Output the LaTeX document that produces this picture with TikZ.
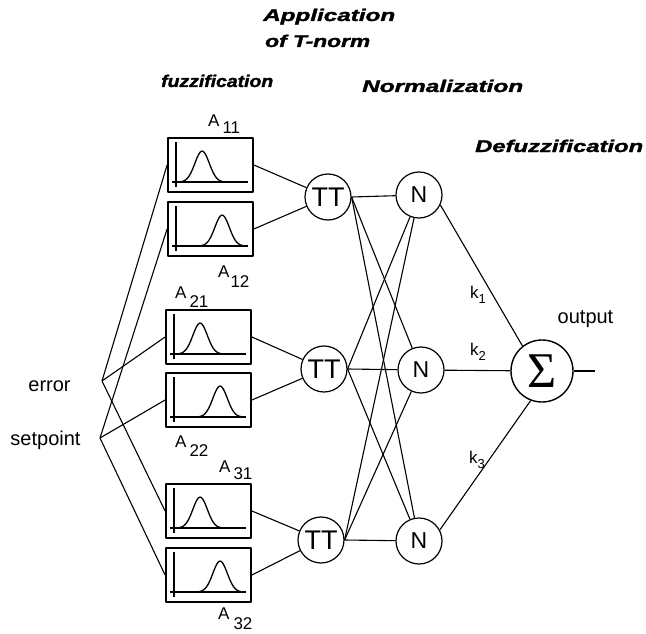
\documentclass[tikz,border=0pt]{standalone}
\usepackage{fontspec}
\setmainfont{Liberation Sans}
\newfontfamily\greekserif{Liberation Serif}
\newfontfamily\titlefont{Liberation Sans Bold Italic}[FakeBold=1.5]
\newcommand\Asub[3]{A\hspace{#3pt}\raisebox{-#2pt}{#1}}
\newcommand\ksub[1]{k\raisebox{-5pt}{\fontsize{13}{13}\selectfont #1}}
\newcommand\mfcurve[2]{%
  \begin{scope}[shift={(#1.north west)}]
    \draw[axisline] (9,5) -- (9,50);
    \draw[axisline] (5,45) -- (81,45);
    \draw[axisline] plot[domain=-22:22,samples=45] ({#2+\x},{45-31*exp(-((\x)*(\x))/104)});
  \end{scope}}
\tikzset{
  mfbox/.style={draw, line width=1.8pt, minimum width=85pt, minimum height=54pt, inner sep=0pt},
  neuron/.style={draw, circle, line width=1.2pt, minimum size=46pt, inner sep=0pt},
  sumnode/.style={draw, circle, line width=1.4pt, minimum size=62pt, inner sep=0pt},
  wire/.style={line width=1.1pt},
  axisline/.style={line width=1.3pt},
  title/.style={font=\fontsize{17}{17}\titlefont, inner sep=0pt, anchor=base west},
  lab/.style={font=\fontsize{17}{17}\selectfont, inner sep=0pt, anchor=base west},
  inlab/.style={font=\fontsize{20}{20}\selectfont, inner sep=0pt, anchor=base}
}
\begin{document}
\begin{tikzpicture}[x=1pt,y=-1pt,line join=round]
\useasboundingbox (0,0) rectangle (646,634);

% titles
\node[title] (tapp) at (263,21) {\resizebox{132pt}{\height}{Application}};
\node[title] (ttn) at (265,47) {\resizebox{105pt}{\height}{of T-norm}};
\node[title] (tfuz) at (161,87) {\resizebox{112pt}{\height}{fuzzification}};
\node[title] (tnor) at (362,92) {\resizebox{161pt}{\height}{Normalization}};
\node[title] (tdef) at (475,152) {\resizebox{168pt}{\height}{Defuzzification}};

% membership function boxes
\node[mfbox] (b1) at (210.5,165) {};
\node[mfbox] (b2) at (210.5,229) {};
\node[mfbox] (b3) at (208.5,337) {};
\node[mfbox] (b4) at (208.5,400) {};
\node[mfbox] (b5) at (208.5,511) {};
\node[mfbox] (b6) at (208.5,575) {};
\mfcurve{b1}{35}
\mfcurve{b2}{55}
\mfcurve{b3}{35}
\mfcurve{b4}{55}
\mfcurve{b5}{35}
\mfcurve{b6}{55}

% box labels
\node[lab] (a11) at (208,127) {\Asub{11}{6}{3}};
\node[lab] (a12) at (218,277) {\Asub{12}{10}{1}};
\node[lab] (a21) at (175,298) {\Asub{21}{9}{3}};
\node[lab] (a22) at (175,447) {\Asub{22}{9}{3}};
\node[lab] (a31) at (219,472) {\Asub{31}{7}{3}};
\node[lab] (a32) at (218,619) {\Asub{32}{10}{4}};

% T-norm nodes
\node[neuron, font=\fontsize{27}{27}\selectfont] (T1) at (328,197) {TT};
\node[neuron, font=\fontsize{27}{27}\selectfont] (T2) at (324,369) {TT};
\node[neuron, font=\fontsize{27}{27}\selectfont] (T3) at (321,540) {TT};

% normalization nodes
\node[neuron, font=\fontsize{23}{23}\selectfont] (N1) at (419,195) {N};
\node[neuron, font=\fontsize{23}{23}\selectfont] (N2) at (421,370) {N};
\node[neuron, font=\fontsize{23}{23}\selectfont] (N3) at (419,541) {N};

% sum node
\node[sumnode, font=\fontsize{50}{50}\selectfont\greekserif] (S) at (542,371) {Σ};
\coordinate (out) at (595,371);

% inputs
\node[inlab] (terr) at (49.5,391) {error};
\node[inlab] (tset) at (45.5,445) {setpoint};
\coordinate (err) at (102,381);
\coordinate (sp) at (100,438);

\draw[wire] (err) -- (b1.west);
\draw[wire] (err) -- (b3.west);
\draw[wire] (err) -- (b5.west);
\draw[wire] (sp) -- (b2.west);
\draw[wire] (sp) -- (b4.west);
\draw[wire] (sp) -- (b6.west);

% boxes to T-norm
\draw[wire] (b1.east) -- (T1);
\draw[wire] (b2.east) -- (T1);
\draw[wire] (b3.east) -- (T2);
\draw[wire] (b4.east) -- (T2);
\draw[wire] (b5.east) -- (T3);
\draw[wire] (b6.east) -- (T3);

% T-norm to normalization
\foreach \t in {T1,T2,T3}{
  \foreach \n in {N1,N2,N3}{
    \draw[wire] (\t.east) -- (\n);
  }
}

% normalization to sum
\draw[wire] (N1.-25) -- (S.128);
\draw[wire] (N2) -- (S);
\draw[wire] (N3.28) -- (S.-111);
\draw[wire] (S.east) -- (out);

% weights and output
\node[lab] (k1) at (470,298) {\ksub{1}};
\node[lab] (k2) at (470,355) {\ksub{2}};
\node[lab] (k3) at (469,463) {\ksub{3}};
\node[inlab] (tout) at (585.5,323) {output};
\end{tikzpicture}
\end{document}
